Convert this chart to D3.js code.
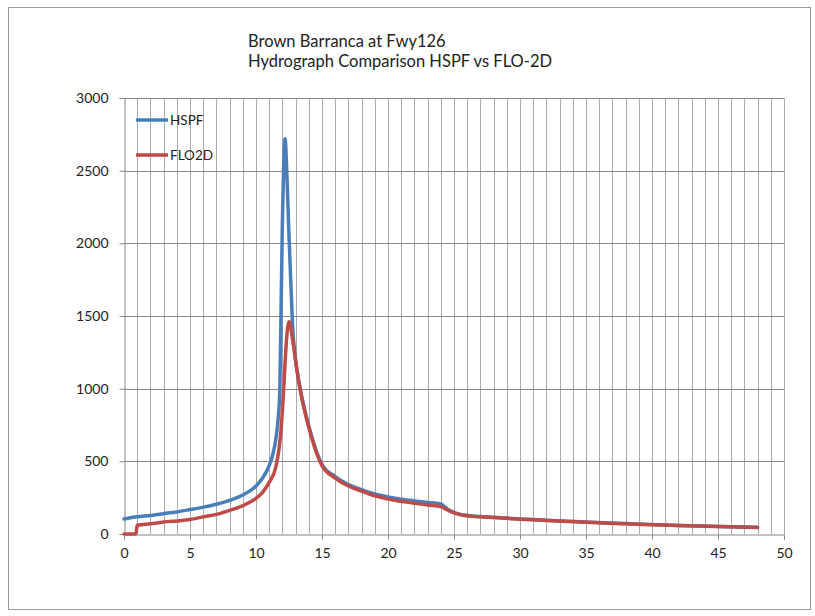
<!DOCTYPE html>
<html><head><meta charset="utf-8">
<script src="https://cdn.jsdelivr.net/npm/d3@7/dist/d3.min.js"></script>
<style>body{margin:0;background:#fff}svg{display:block}</style>
</head><body>
<svg id="c" width="815" height="616"></svg>
<script>
const titleLines = ["Brown Barranca at Fwy126", "Hydrograph Comparison HSPF vs FLO-2D"];
const seriesNames = ["HSPF", "FLO2D"];
const seriesColors = ["#4A7EBB", "#BE4B48"];
const xTicks = [0, 5, 10, 15, 20, 25, 30, 35, 40, 45, 50];
const yTicks = [0, 500, 1000, 1500, 2000, 2500, 3000];

const hspfTime = [0,1,2,3,4,5,6,7,8,9,10,10.5,11,11.25,11.5,11.7,11.8,11.9,12.0,12.1,12.2,12.35,12.5,12.65,12.8,12.9,13.0,13.1,13.33,13.7,14.1,14.5,15,16,17,18,19,20,21,22,23,24,24.5,25,25.5,26,27,28,30,32,35,38,40,42,45,48];
const hspfFlow = [103,118,128,140,152,168,185,205,232,268,330,385,470,540,650,820,980,1550,2150,2550,2720,2450,2050,1700,1390,1280,1190,1130,1010,850,710,590,480,395,340,305,275,255,240,228,217,207,172,148,135,128,120,115,104,95,82,72,65,59,52,46];

const floTime = [0,0.9,1.0,2,2.5,3,4,5,6,7,7.5,8,9,10,10.5,11,11.5,11.75,11.9,12.0,12.1,12.2,12.3,12.4,12.5,12.6,12.7,12.9,13.1,13.33,13.7,14.1,14.5,15,16,17,18,19,20,21,22,23,24,24.5,25,25.5,26,27,28,30,32,35,38,40,42,45,48];
const floFlow = [0,0,60,70,75,82,90,100,118,135,148,162,195,245,287,355,460,590,720,850,1000,1170,1320,1420,1460,1440,1380,1260,1130,1000,840,700,580,470,385,330,295,262,240,225,212,200,188,165,145,132,125,118,113,102,93,80,70,64,58,51,45];

const svg = d3.select("#c");
const m = {left:124, right:784, top:98, bottom:534};
const x = d3.scaleLinear().domain([0,50]).range([m.left, m.right]);
const y = d3.scaleLinear().domain([0,3000]).range([m.bottom, m.top]);
const font = "Lato, 'Open Sans', sans-serif";

svg.append("rect").attr("x",8.5).attr("y",7.5).attr("width",802).attr("height",602)
  .attr("fill","#fff").attr("stroke","#9a9a9a").attr("stroke-width",1);

// vertical gridlines every 1 unit
const g = svg.append("g");
g.selectAll("line.v").data(d3.range(1,51)).join("line")
  .attr("x1",d=>Math.round(x(d))+0.5).attr("x2",d=>Math.round(x(d))+0.5)
  .attr("y1",m.top).attr("y2",m.bottom)
  .attr("stroke","#ababab").attr("stroke-width",1);
// horizontal gridlines
g.selectAll("line.h").data(yTicks.slice(1)).join("line")
  .attr("x1",m.left).attr("x2",m.right)
  .attr("y1",d=>Math.round(y(d))+0.5).attr("y2",d=>Math.round(y(d))+0.5)
  .attr("stroke","#8a8a8a").attr("stroke-width",1);

// axes
const xAxis = d3.axisBottom(x).tickValues(xTicks).tickSize(5).tickPadding(9).tickFormat(d3.format("d"));
const yAxis = d3.axisLeft(y).tickValues(yTicks).tickSize(5).tickPadding(11).tickFormat(d3.format("d"));
const gx = svg.append("g").attr("transform",`translate(0,${Math.round(m.bottom)+0.5})`).call(xAxis);
const gy = svg.append("g").attr("transform",`translate(${m.left+0.5},0)`).call(yAxis);
[gx,gy].forEach(a=>{
  a.select(".domain").attr("stroke","#868686");
  a.selectAll(".tick line").attr("stroke","#868686");
  a.selectAll("text").attr("font-family",font).attr("font-size",14).attr("fill","#222");
});

// lines
const line = d3.line().x(d=>x(d[0])).y(d=>y(d[1])).curve(d3.curveMonotoneX);
const data = [d3.zip(hspfTime,hspfFlow), d3.zip(floTime,floFlow)];
data.forEach((d,i)=>{
  svg.append("path").datum(d).attr("d",line).attr("fill","none")
    .attr("stroke",seriesColors[i]).attr("stroke-width",3.5)
    .attr("stroke-linejoin","round").attr("stroke-linecap","round");
});

// title
titleLines.forEach((t,i)=>{
  svg.append("text").attr("x",248).attr("y",47+i*20).text(t)
    .attr("font-family",font).attr("font-size",16.5).attr("fill","#222");
});

// legend
seriesNames.forEach((n,i)=>{
  const ly = 120 + i*35;
  svg.append("line").attr("x1",136).attr("x2",168).attr("y1",ly).attr("y2",ly)
    .attr("stroke",seriesColors[i]).attr("stroke-width",3.5);
  svg.append("text").attr("x",170).attr("y",ly+5).text(n)
    .attr("font-family",font).attr("font-size",13.5).attr("fill","#222");
});
</script>
</body></html>
